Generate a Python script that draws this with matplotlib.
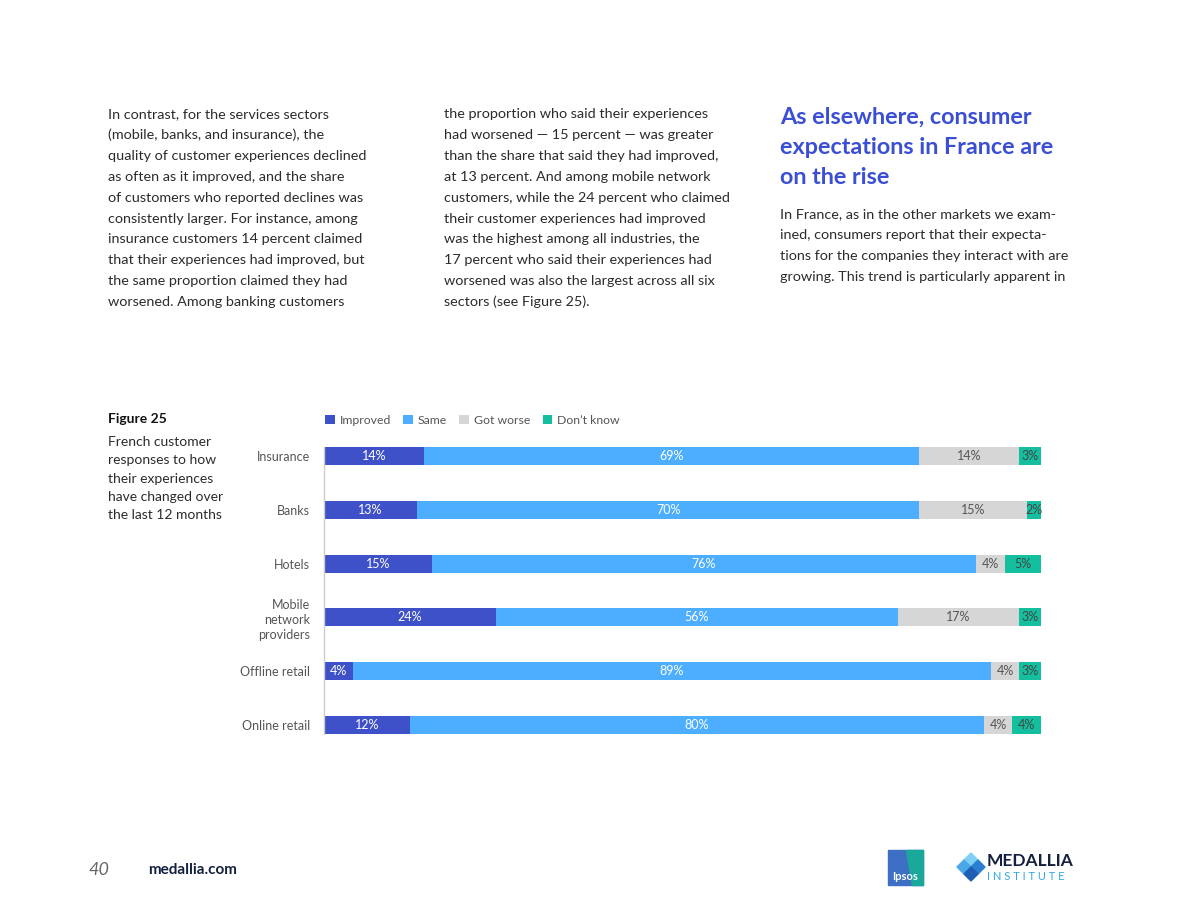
import numpy as np
import matplotlib.pyplot as plt
from matplotlib.patches import Rectangle, Polygon

plt.rcParams['font.family'] = ['Lato', 'DejaVu Sans']

categories = ['Insurance', 'Banks', 'Hotels', 'Mobile\nnetwork\nproviders',
              'Offline retail', 'Online retail']
improved = [14, 13, 15, 24, 4, 12]
same = [69, 70, 76, 56, 89, 80]
got_worse = [14, 15, 4, 17, 4, 4]
dont_know = [3, 2, 5, 3, 3, 4]
series_names = ['Improved', 'Same', 'Got worse', 'Don\u2019t know']

colors = ['#3f51c9', '#4daeff', '#d6d6d6', '#14bf9f']
label_colors = ['white', 'white', '#555555', '#444444']

W, H = 1184, 915
fig = plt.figure(figsize=(W / 100, H / 100), dpi=100)


def px(x, y):
    return x / W, 1 - y / H


body_color = '#2b2b2b'
body_size = 10.4

col1 = ["In contrast, for the services sectors",
        "(mobile, banks, and insurance), the",
        "quality of customer experiences declined",
        "as often as it improved, and the share",
        "of customers who reported declines was",
        "consistently larger. For instance, among",
        "insurance customers 14 percent claimed",
        "that their experiences had improved, but",
        "the same proportion claimed they had",
        "worsened. Among banking customers"]
col2 = ["the proportion who said their experiences",
        "had worsened \u2014 15 percent \u2014 was greater",
        "than the share that said they had improved,",
        "at 13 percent. And among mobile network",
        "customers, while the 24 percent who claimed",
        "their customer experiences had improved",
        "was the highest among all industries, the",
        "17 percent who said their experiences had",
        "worsened was also the largest across all six",
        "sectors (see Figure 25)."]
heading = ["As elsewhere, consumer",
           "expectations in France are",
           "on the rise"]
col3 = ["In France, as in the other markets we exam-",
        "ined, consumers report that their expecta-",
        "tions for the companies they interact with are",
        "growing. This trend is particularly apparent in"]

for i, line in enumerate(col1):
    fig.text(*px(108, 114 + i * 20.9), line, fontsize=body_size, color=body_color, va='center')
for i, line in enumerate(col2):
    fig.text(*px(444, 114 + i * 20.9), line, fontsize=body_size, color=body_color, va='center')
for i, line in enumerate(heading):
    fig.text(*px(780, 117 + i * 30), line, fontsize=16.8, color='#3b4fd4',
             fontweight='bold', va='center')
for i, line in enumerate(col3):
    fig.text(*px(780, 214 + i * 20.9), line, fontsize=10.4, color=body_color, va='center')

# figure caption
fig.text(*px(108, 419), 'Figure 25', fontsize=10, fontweight='bold', color='#111111', va='center')
caption = ['French customer', 'responses to how', 'their experiences',
           'have changed over', 'the last 12 months']
for i, line in enumerate(caption):
    fig.text(*px(108, 442 + i * 18.3), line, fontsize=10, color=body_color, va='center')

# chart
ax = fig.add_axes([324 / W, 1 - 752 / H, (1041 - 324) / W, (752 - 429) / H])
y = np.arange(len(categories))
data = [improved, same, got_worse, dont_know]
left = np.zeros(len(categories))
for vals, name, c, lc in zip(data, series_names, colors, label_colors):
    bars = ax.barh(y, vals, left=left, height=0.335, color=c, label=name)
    ax.bar_label(bars, labels=[f'{v}%' for v in vals], label_type='center',
                 color=lc, fontsize=9)
    left += np.array(vals)

ax.set_xlim(0, 100)
ax.set_ylim(5.5, -0.5)
ax.set_yticks(y)
ax.set_yticklabels(categories, fontsize=9, color='#555555', linespacing=1.3)
ax.tick_params(axis='y', length=0, pad=10)
ax.set_xticks([])
for s in ['top', 'right', 'bottom']:
    ax.spines[s].set_visible(False)
ax.spines['left'].set_color('#cccccc')
ax.spines['left'].set_linewidth(1)
ax.spines['left'].set_bounds(-0.17, 5.17)

fig.legend(loc='center left', bbox_to_anchor=px(320, 420), ncol=4, frameon=False,
           fontsize=8.8, handlelength=0.8, handleheight=0.8, handletextpad=0.4,
           columnspacing=1.0, borderaxespad=0, labelcolor='#555555')

# footer
fig.text(*px(89, 870), '40', fontsize=13, style='italic', color='#666666', va='center')
fig.text(*px(148, 870), 'medallia.com', fontsize=11, fontweight='bold', color='#14203f', va='center')

# Ipsos logo
fig.patches.append(Rectangle(px(888, 885), 35 / W, 35 / H, transform=fig.transFigure,
                             color='#3d6fc4'))
fig.patches.append(Polygon([px(906, 850), px(923, 850), px(923, 885), px(912, 885)],
                           closed=True, transform=fig.transFigure, color='#1aa89a'))
fig.text(*px(905, 877), 'Ipsos', fontsize=8, fontweight='bold', color='white',
         ha='center', va='center')

# Medallia institute logo
cx, cy, d = 971, 867, 7
for (dx, dy), c in zip([(0, -1), (-1, 0), (1, 0), (0, 1)],
                       ['#7fd0f5', '#4aa8e8', '#2b7fd0', '#1e5fb3']):
    x0, y0 = cx + dx * d, cy + dy * d
    fig.patches.append(Polygon([px(x0, y0 - d), px(x0 + d, y0), px(x0, y0 + d), px(x0 - d, y0)],
                               closed=True, transform=fig.transFigure, color=c))
fig.text(*px(987, 861), 'MEDALLIA', fontsize=12.5, fontweight='bold', color='#14203f', va='center')
fig.text(*px(987, 877), 'I N S T I T U T E', fontsize=8, color='#2fa8e6', va='center')

fig.savefig('out.png', dpi=100, facecolor='white')
